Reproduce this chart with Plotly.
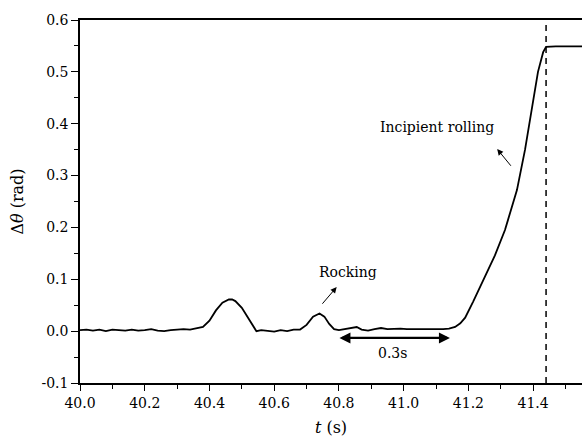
import plotly.graph_objects as go

# ---- data ----
t = [40.00, 40.02, 40.04, 40.06, 40.08, 40.10, 40.12, 40.14, 40.16, 40.18,
     40.20, 40.22, 40.24, 40.26, 40.28, 40.30, 40.32, 40.34, 40.36, 40.38,
     40.40, 40.42, 40.44, 40.46, 40.47, 40.48, 40.50, 40.52, 40.535, 40.545,
     40.56, 40.58, 40.60, 40.62, 40.64, 40.66, 40.68, 40.70, 40.72, 40.74,
     40.755, 40.77, 40.785, 40.80, 40.82, 40.84, 40.855, 40.87, 40.89, 40.91,
     40.93, 40.95, 40.97, 40.99, 41.01, 41.03, 41.05, 41.07, 41.09, 41.11,
     41.122, 41.14, 41.159, 41.175, 41.19, 41.214, 41.245, 41.282, 41.313, 41.35,
     41.375, 41.397, 41.415, 41.431, 41.44, 41.47, 41.50, 41.56]
dtheta = [0.002, 0.003, 0.001, 0.003, 0.000, 0.003, 0.002, 0.001, 0.003, 0.001,
          0.002, 0.004, 0.001, 0.000, 0.002, 0.003, 0.004, 0.003, 0.005, 0.008,
          0.020, 0.040, 0.055, 0.061, 0.061, 0.058, 0.045, 0.025, 0.008, 0.000,
          0.002, 0.001, -0.001, 0.002, 0.000, 0.003, 0.003, 0.012, 0.028, 0.034,
          0.028, 0.014, 0.004, 0.002, 0.004, 0.006, 0.008, 0.003, 0.001, 0.004,
          0.006, 0.004, 0.005, 0.005, 0.004, 0.004, 0.003, 0.004, 0.003, 0.004,
          0.004, 0.005, 0.008, 0.015, 0.026, 0.056, 0.098, 0.146, 0.195, 0.272,
          0.350, 0.437, 0.500, 0.538, 0.548, 0.549, 0.549, 0.549]

rolling_onset_t = 41.44
y_range = [-0.1, 0.6]
x_range = [40.0, 41.551]

rocking_label = {"text": "Rocking", "t": 40.827, "v": 0.114}
rocking_arrow = {"t0": 40.745, "v0": 0.050, "t1": 40.793, "v1": 0.085}
rolling_label = {"text": "Incipient rolling", "t": 41.103, "v": 0.393}
rolling_arrow = {"t0": 41.335, "v0": 0.316, "t1": 41.289, "v1": 0.351}
span_label = {"text": "0.3s", "t": 40.964, "v": -0.042}
span_arrow = {"t0": 40.797, "t1": 41.143, "v": -0.013}

FONT = "DejaVu Serif"

fig = go.Figure()
fig.add_trace(go.Scatter(x=t, y=dtheta, mode="lines",
                         line=dict(color="black", width=1.8),
                         showlegend=False, hoverinfo="skip"))
fig.add_trace(go.Scatter(x=[rolling_onset_t, rolling_onset_t], y=y_range,
                         mode="lines", line=dict(color="black", width=1.5, dash="6px,5px"),
                         showlegend=False, hoverinfo="skip"))

ann = []
for lab in (rocking_label, rolling_label, span_label):
    ann.append(dict(x=lab["t"], y=lab["v"], xref="x", yref="y", text=lab["text"],
                    showarrow=False, font=dict(family=FONT, size=14, color="black")))
for a in (rocking_arrow, rolling_arrow):
    ann.append(dict(x=a["t1"], y=a["v1"], ax=a["t0"], ay=a["v0"],
                    xref="x", yref="y", axref="x", ayref="y", text="",
                    showarrow=True, arrowhead=2, arrowsize=1.2, arrowwidth=1,
                    arrowcolor="black", standoff=0))
ann.append(dict(x=span_arrow["t1"], y=span_arrow["v"], ax=span_arrow["t0"], ay=span_arrow["v"],
                xref="x", yref="y", axref="x", ayref="y", text="",
                showarrow=True, arrowhead=2, startarrowhead=2, arrowside="end+start",
                arrowsize=1, startarrowsize=1, arrowwidth=2.2, arrowcolor="black",
                standoff=0, startstandoff=0))

fig.update_layout(
    width=582, height=444,
    margin=dict(l=80, r=0, t=20, b=61),
    paper_bgcolor="white", plot_bgcolor="white",
    font=dict(family=FONT, size=14, color="black"),
    annotations=ann,
    xaxis=dict(range=x_range, showgrid=False, zeroline=False,
               showline=True, linecolor="black", linewidth=1.5, mirror=True,
               ticks="outside", ticklen=6, tickwidth=1.2, tickcolor="black",
               tickvals=[40.0, 40.2, 40.4, 40.6, 40.8, 41.0, 41.2, 41.4],
               ticktext=["40.0", "40.2", "40.4", "40.6", "40.8", "41.0", "41.2", "41.4"],
               minor=dict(tickvals=[40.1, 40.3, 40.5, 40.7, 40.9, 41.1, 41.3, 41.5],
                          ticks="outside", ticklen=4, tickcolor="black", tickwidth=1.2),
               tickfont=dict(family=FONT, size=14),
               title=dict(text="<i>t</i> (s)", font=dict(family=FONT, size=16), standoff=12)),
    yaxis=dict(range=y_range, showgrid=False, zeroline=False,
               showline=True, linecolor="black", linewidth=1.5, mirror=False,
               ticks="outside", ticklen=7, tickwidth=1.2, tickcolor="black",
               tickvals=[-0.1, 0.0, 0.1, 0.2, 0.3, 0.4, 0.5, 0.6],
               ticktext=["-0.1", "0.0", "0.1", "0.2", "0.3", "0.4", "0.5", "0.6"],
               minor=dict(tickvals=[-0.05, 0.05, 0.15, 0.25, 0.35, 0.45, 0.55],
                          ticks="outside", ticklen=4, tickcolor="black", tickwidth=1.2),
               tickfont=dict(family=FONT, size=14),
               title=dict(text="Δ<i>θ</i> (rad)", font=dict(family=FONT, size=16), standoff=14)),
)

fig.write_html("out.html")
